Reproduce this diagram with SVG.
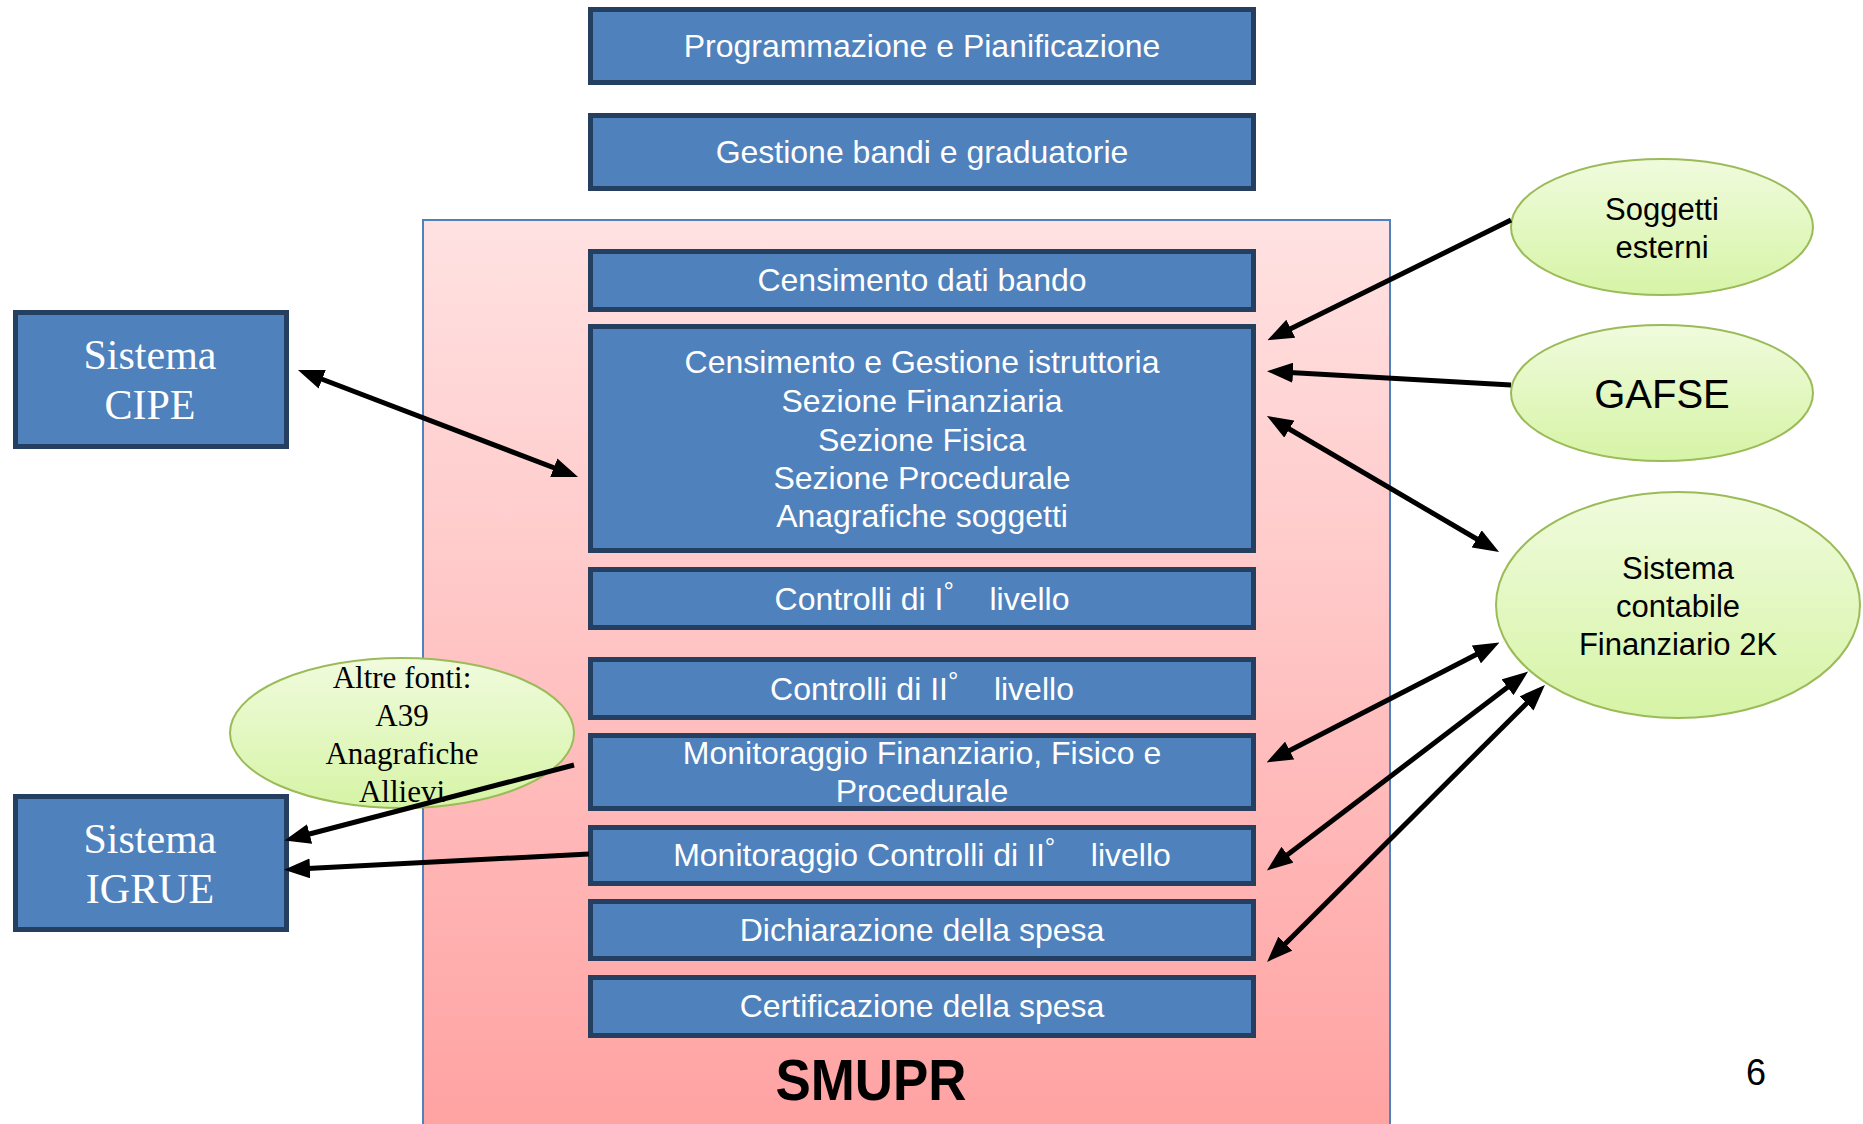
<svg xmlns="http://www.w3.org/2000/svg" width="1863" height="1124" viewBox="0 0 1863 1124">
<defs>
<linearGradient id="gPink" x1="0" y1="0" x2="0" y2="1">
<stop offset="0" stop-color="#FFE2E2"/>
<stop offset="1" stop-color="#FFA2A2"/>
</linearGradient>
<linearGradient id="gGreen" x1="0" y1="0" x2="0" y2="1">
<stop offset="0" stop-color="#F0FBDD"/>
<stop offset="1" stop-color="#D6F4A6"/>
</linearGradient>
<marker id="ah" markerUnits="userSpaceOnUse" markerWidth="26" markerHeight="20" viewBox="0 0 26 20" refX="12" refY="10" orient="auto-start-reverse">
<path d="M0,0 L26,10 L0,20 z" fill="#000"/>
</marker>
<style>
.box{fill:#4F81BD;stroke:#243F60;stroke-width:5}
.bt{font-family:"Liberation Sans",Arial,sans-serif;font-size:32px;fill:#fff;text-anchor:middle}
.deg{font-size:26px}
.st{font-family:"Liberation Serif","Times New Roman",serif;font-size:42px;fill:#fff;text-anchor:middle}
.ell{fill:url(#gGreen);stroke:#9BBB59;stroke-width:2}
.et{font-family:"Liberation Sans",Arial,sans-serif;font-size:31px;fill:#000;text-anchor:middle}
.big{font-size:40px}
.ets{font-family:"Liberation Serif","Times New Roman",serif;font-size:31px;fill:#000;text-anchor:middle}
.ar{fill:none;stroke:#000;stroke-width:5}
</style>
</defs>
<rect x="0" y="0" width="1863" height="1124" fill="#fff"/>

<g id="smupr">
<rect x="423" y="220" width="967" height="910" fill="url(#gPink)" stroke="#4F81BD" stroke-width="2"/>
<text x="871" y="1100" font-family="'Liberation Sans',Arial,sans-serif" font-size="58" font-weight="bold" text-anchor="middle" textLength="191" lengthAdjust="spacingAndGlyphs" fill="#000">SMUPR</text>
</g>

<g id="programmazione">
<rect class="box" x="590.5" y="9.5" width="663" height="73"/>
<text class="bt" x="922" y="57">Programmazione e Pianificazione</text>
</g>
<g id="gestione-bandi">
<rect class="box" x="590.5" y="115.5" width="663" height="73"/>
<text class="bt" x="922" y="163">Gestione bandi e graduatorie</text>
</g>
<g id="censimento-bando">
<rect class="box" x="590.5" y="251.5" width="663" height="58"/>
<text class="bt" x="922" y="291">Censimento dati bando</text>
</g>
<g id="censimento-istruttoria">
<rect class="box" x="590.5" y="326.5" width="663" height="224"/>
<text class="bt" x="922" y="373">Censimento e Gestione istruttoria</text>
<text class="bt" x="922" y="412">Sezione Finanziaria</text>
<text class="bt" x="922" y="451">Sezione Fisica</text>
<text class="bt" x="922" y="489">Sezione Procedurale</text>
<text class="bt" x="922" y="527">Anagrafiche soggetti</text>
</g>
<g id="controlli-1">
<rect class="box" x="590.5" y="569.5" width="663" height="58"/>
<text class="bt" x="922" y="610" style="white-space:pre">Controlli di I<tspan class="deg" dy="-10">°</tspan><tspan dy="10">    livello</tspan></text>
</g>
<g id="controlli-2">
<rect class="box" x="590.5" y="659.5" width="663" height="58"/>
<text class="bt" x="922" y="700" style="white-space:pre">Controlli di II<tspan class="deg" dy="-10">°</tspan><tspan dy="10">    livello</tspan></text>
</g>
<g id="monitoraggio-ffp">
<rect class="box" x="590.5" y="735.5" width="663" height="73"/>
<text class="bt" x="922" y="764">Monitoraggio Finanziario, Fisico e</text>
<text class="bt" x="922" y="802">Procedurale</text>
</g>
<g id="monitoraggio-controlli">
<rect class="box" x="590.5" y="827.5" width="663" height="56"/>
<text class="bt" x="922" y="866" style="white-space:pre">Monitoraggio Controlli di II<tspan class="deg" dy="-10">°</tspan><tspan dy="10">    livello</tspan></text>
</g>
<g id="dichiarazione">
<rect class="box" x="590.5" y="901.5" width="663" height="57"/>
<text class="bt" x="922" y="941">Dichiarazione della spesa</text>
</g>
<g id="certificazione">
<rect class="box" x="590.5" y="977.5" width="663" height="58"/>
<text class="bt" x="922" y="1017">Certificazione della spesa</text>
</g>

<g id="sistema-cipe">
<rect class="box" x="15.5" y="312.5" width="271" height="134"/>
<text class="st" x="150" y="369">Sistema</text>
<text class="st" x="150" y="419">CIPE</text>
</g>
<g id="sistema-igrue">
<rect class="box" x="15.5" y="796.5" width="271" height="133"/>
<text class="st" x="150" y="853">Sistema</text>
<text class="st" x="150" y="903">IGRUE</text>
</g>

<g id="soggetti-esterni">
<ellipse class="ell" cx="1662" cy="227" rx="151" ry="68"/>
<text class="et" x="1662" y="220">Soggetti</text>
<text class="et" x="1662" y="258">esterni</text>
</g>
<g id="gafse">
<ellipse class="ell" cx="1662" cy="393" rx="151" ry="68"/>
<text class="et big" x="1662" y="408">GAFSE</text>
</g>
<g id="sistema-contabile">
<ellipse class="ell" cx="1678" cy="605" rx="182" ry="113"/>
<text class="et" x="1678" y="579">Sistema</text>
<text class="et" x="1678" y="617">contabile</text>
<text class="et" x="1678" y="655">Finanziario 2K</text>
</g>
<g id="altre-fonti">
<ellipse class="ell" cx="402" cy="733" rx="172" ry="75"/>
<text class="ets" x="402" y="688">Altre fonti:</text>
<text class="ets" x="402" y="726">A39</text>
<text class="ets" x="402" y="764">Anagrafiche</text>
<text class="ets" x="402" y="802">Allievi</text>
</g>

<g id="connectors">
<line class="ar" x1="1511" y1="220" x2="1280" y2="334" marker-end="url(#ah)"/>
<line class="ar" x1="1511" y1="385" x2="1281" y2="372" marker-end="url(#ah)"/>
<line class="ar" x1="1279" y1="423" x2="1487" y2="545" marker-start="url(#ah)" marker-end="url(#ah)"/>
<line class="ar" x1="311" y1="375" x2="565" y2="472" marker-start="url(#ah)" marker-end="url(#ah)"/>
<line class="ar" x1="1279" y1="756" x2="1487" y2="649" marker-start="url(#ah)" marker-end="url(#ah)"/>
<line class="ar" x1="1278" y1="862" x2="1517" y2="680" marker-start="url(#ah)" marker-end="url(#ah)"/>
<line class="ar" x1="1277" y1="952" x2="1535" y2="695" marker-start="url(#ah)" marker-end="url(#ah)"/>
<line class="ar" x1="574" y1="765" x2="298" y2="837" marker-end="url(#ah)"/>
<line class="ar" x1="589" y1="854" x2="298" y2="869" marker-end="url(#ah)"/>
</g>

<text x="1756" y="1085" font-family="'Liberation Sans',Arial,sans-serif" font-size="36" text-anchor="middle" fill="#000">6</text>
</svg>
